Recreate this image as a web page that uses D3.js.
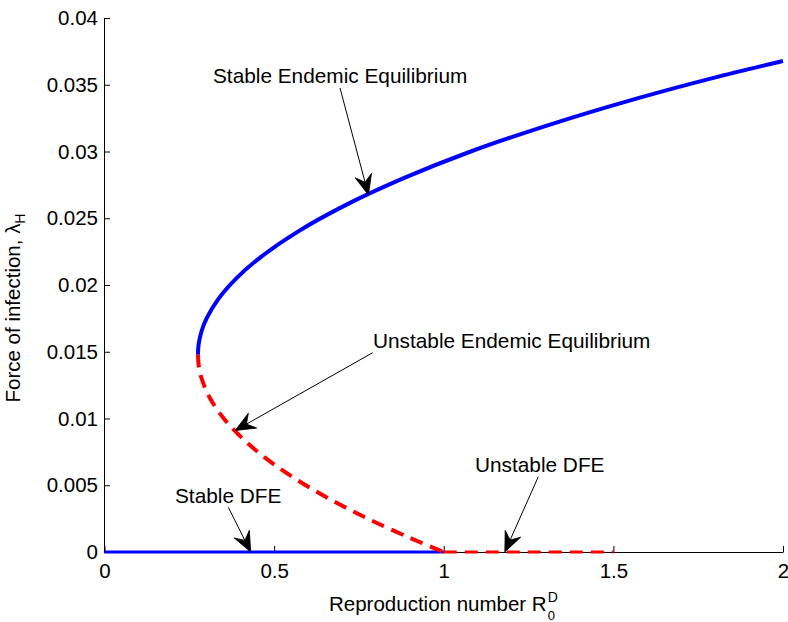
<!DOCTYPE html>
<html>
<head>
<meta charset="utf-8">
<script src="https://cdn.jsdelivr.net/npm/d3@7"></script>
<style>
  html, body { margin: 0; padding: 0; background: #fff; }
  svg { display: block; font-family: "Liberation Sans", Arial, Helvetica, sans-serif; }
</style>
</head>
<body>
<svg id="chart" width="788" height="622"></svg>
<script>
// Backward bifurcation diagram: force of infection vs reproduction number

const xTicks = [0, 0.5, 1, 1.5, 2];
const xTickLabels = ["0", "0.5", "1", "1.5", "2"];
const yTicks = [0, 0.005, 0.01, 0.015, 0.02, 0.025, 0.03, 0.035, 0.04];
const yTickLabels = ["0", "0.005", "0.01", "0.015", "0.02", "0.025", "0.03", "0.035", "0.04"];

// Stable endemic equilibrium branch (upper), from the turning point up to R = 2
const stableEE_R = [0.2755, 0.2772, 0.2856, 0.3009, 0.3369, 0.3886, 0.4559, 0.5700, 0.7120, 0.8819, 1.0795, 1.3110, 1.5731, 1.7924, 2.0];
const stableEE_L = [0.0148, 0.0155, 0.0165, 0.0175, 0.0190, 0.0205, 0.0220, 0.0240, 0.0260, 0.0280, 0.0300, 0.0320, 0.0340, 0.0355, 0.03678];

// Unstable endemic equilibrium branch (lower), from the turning point down to R = 1
const unstableEE_R = [0.2755, 0.2776, 0.2862, 0.3115, 0.3517, 0.4068, 0.4768, 0.5616, 0.6613, 0.7760, 0.9055, 1.0];
const unstableEE_L = [0.0148, 0.0140, 0.0130, 0.0115, 0.0100, 0.0085, 0.0070, 0.0055, 0.0040, 0.0025, 0.0010, 0];

// Disease-free equilibrium
const stableDFE_R = [0, 1];
const stableDFE_L = [0, 0];
const unstableDFE_R = [1, 1.5];
const unstableDFE_L = [0, 0];

// Annotation labels and the points their arrows indicate
const annoTexts = ["Stable Endemic Equilibrium", "Unstable Endemic Equilibrium", "Stable DFE", "Unstable DFE"];
const annoTipR = [0.778, 0.385, 0.431, 1.18];
const annoTipL = [0.02675, 0.0091, 0, 0];

const svg = d3.select("#chart");

const x = d3.scaleLinear().domain([0, 2]).range([104.5, 783]);
const y = d3.scaleLinear().domain([0, 0.04]).range([552, 18]);

// Axes (ticks point inward)
const xAxis = d3.axisBottom(x)
  .tickValues(xTicks)
  .tickFormat((d, i) => xTickLabels[i])
  .tickSizeInner(-6)
  .tickSizeOuter(0)
  .tickPadding(11);

const yAxis = d3.axisLeft(y)
  .tickValues(yTicks)
  .tickFormat((d, i) => yTickLabels[i])
  .tickSizeInner(-6)
  .tickSizeOuter(0)
  .tickPadding(6);

const gx = svg.append("g").attr("transform", `translate(0,${y(0)})`).call(xAxis);
const gy = svg.append("g").attr("transform", `translate(${x(0) - 0.5},0)`).call(yAxis);

[gx, gy].forEach(g => {
  g.selectAll("path.domain").attr("stroke", "#000").attr("stroke-width", 1);
  g.selectAll(".tick line").attr("stroke", "#000").attr("stroke-width", 1);
  g.selectAll(".tick text")
    .attr("fill", "#000")
    .style("font-size", "20.5px")
    .style("font-family", '"Liberation Sans", Arial, Helvetica, sans-serif');
});

// Curves
const toPts = (R, L) => R.map((r, i) => [r, L[i]]);
const line = d3.line().x(d => x(d[0])).y(d => y(d[1])).curve(d3.curveCatmullRom.alpha(0.5));
const straight = d3.line().x(d => x(d[0])).y(d => y(d[1]));

const plot = svg.append("g");

plot.append("path")
  .attr("d", straight(toPts(stableDFE_R, stableDFE_L)))
  .attr("fill", "none").attr("stroke", "#0000ff").attr("stroke-width", 3);

plot.append("path")
  .attr("d", straight(toPts(unstableDFE_R, unstableDFE_L)))
  .attr("fill", "none").attr("stroke", "#ff0000").attr("stroke-width", 3)
  .attr("stroke-dasharray", "13,8");

plot.append("path")
  .attr("d", line(toPts(unstableEE_R, unstableEE_L)))
  .attr("fill", "none").attr("stroke", "#ff0000").attr("stroke-width", 4)
  .attr("stroke-dasharray", "13,8");

plot.append("path")
  .attr("d", line(toPts(stableEE_R, stableEE_L)))
  .attr("fill", "none").attr("stroke", "#0000ff").attr("stroke-width", 4)
  .attr("stroke-linecap", "butt");

// Annotations with arrows
const annoTextPos = [[213, 83], [373, 348], [175, 503], [475, 472]];
const annoTail = [[340, 88], [372.7, 352.7], [228.3, 507.3], [538.3, 476.7]];

const ann = svg.append("g");
annoTexts.forEach((t, i) => {
  ann.append("text")
    .attr("x", annoTextPos[i][0]).attr("y", annoTextPos[i][1])
    .style("font-size", "20.8px")
    .attr("fill", "#000")
    .text(t);

  const tx = x(annoTipR[i]), ty = y(annoTipL[i]);
  const [sx, sy] = annoTail[i];
  const dx = tx - sx, dy = ty - sy;
  const len = Math.hypot(dx, dy);
  const ux = dx / len, uy = dy / len;
  const px = -uy, py = ux;
  const headL = 20, headW = 8.5, notch = 7;
  const bx = tx - ux * headL, by = ty - uy * headL;
  const nx = tx - ux * (headL - notch), ny = ty - uy * (headL - notch);

  ann.append("line")
    .attr("x1", sx).attr("y1", sy).attr("x2", nx).attr("y2", ny)
    .attr("stroke", "#000").attr("stroke-width", 1);

  ann.append("path")
    .attr("d", `M${tx},${ty} L${bx + px * headW},${by + py * headW} L${nx},${ny} L${bx - px * headW},${by - py * headW} Z`)
    .attr("fill", "#000").attr("stroke", "#000").attr("stroke-width", 0.8)
    .attr("stroke-linejoin", "miter");
});

// Axis labels
const xl = svg.append("text")
  .attr("x", 329).attr("y", 611)
  .style("font-size", "20.5px").attr("fill", "#000")
  .text("Reproduction number R");
const xlEnd = 329 + xl.node().getComputedTextLength();
svg.append("text").attr("x", xlEnd + 1).attr("y", 602)
  .style("font-size", "14px").attr("fill", "#000").text("D");
svg.append("text").attr("x", xlEnd + 1).attr("y", 620)
  .style("font-size", "13px").attr("fill", "#000").text("0");

const yl = svg.append("text")
  .attr("transform", "translate(20,308) rotate(-90)")
  .attr("text-anchor", "middle")
  .style("font-size", "20.5px").attr("fill", "#000");
yl.append("tspan").text("Force of infection, λ");
yl.append("tspan").attr("dy", 5).style("font-size", "14px").text("H");
</script>
</body>
</html>
